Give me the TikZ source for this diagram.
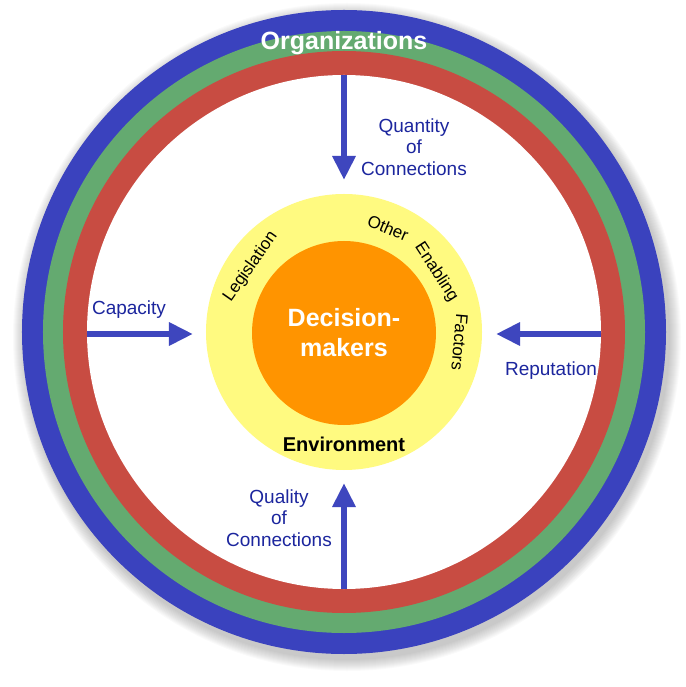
\documentclass[tikz,border=0pt]{standalone}
\usepackage{fontspec}
\setmainfont{Liberation Sans}
\usetikzlibrary{arrows.meta}
\definecolor{ringblue}{RGB}{58,66,190}
\definecolor{ringgreen}{RGB}{100,170,112}
\definecolor{ringred}{RGB}{200,76,66}
\definecolor{envyellow}{RGB}{255,250,128}
\definecolor{coreorange}{RGB}{255,148,0}
\definecolor{labelblue}{RGB}{28,38,158}
\definecolor{arrowblue}{RGB}{62,70,190}
\newcommand{\labelfont}{\fontsize{19}{21.5}\selectfont}

\begin{document}
\begin{tikzpicture}[x=1pt,y=1pt,
    bigarrow/.style={-{Triangle[length=24pt,width=22pt]}, line width=6pt, arrowblue},
    driver/.style={text=labelblue, align=center, font=\labelfont},
    factor/.style={font=\fontsize{17}{19}\selectfont, inner sep=0pt}]
    \useasboundingbox (-344,-355) rectangle (341,332);

    % shadow and rings
    \foreach \k in {1,...,12}
      \fill[black, opacity=0.018] (3,-5) circle (322+\k);
    \fill[ringblue] (0,0) circle (322);
    \fill[ringgreen] (0,0) circle (301);
    \fill[ringred] (0,0) circle (281);
    \fill[white] (0,0) circle (257);
    \fill[envyellow] (0,0) circle (138);
    \fill[coreorange] (0,-1) circle (92);

    \node (org) [anchor=base, text=white, font=\fontsize{25}{28}\selectfont\bfseries] at (0,282) {Organizations};
    \node (core) [align=center, text=white, font=\fontsize{25}{30}\selectfont\bfseries] at (0,-1) {Decision-\\makers};
    \node (env) [font=\fontsize{20}{22}\selectfont\bfseries] at (0,-112) {Environment};
    \foreach \word/\ang/\rad in {Legislation/145/114, Other/67/113, Enabling/33/110, Factors/-5/116}
      \node (\word) [factor, rotate=\ang-90] at (\ang:\rad) {\word};

    \node (quantity) [driver] at (70,185) {Quantity\\of\\Connections};
    \node (quality) [driver] at (-65,-186) {Quality\\of\\Connections};
    \node (capacity) [driver] at (-215,22) {Capacity};
    \node (reputation) [driver] at (207,-39) {Reputation};

    \coordinate (qtyOut) at (0,257);   \coordinate (qtyIn) at (0,152);
    \coordinate (qlyOut) at (0,-257);  \coordinate (qlyIn) at (0,-151);
    \coordinate (capOut) at (-257,-2); \coordinate (capIn) at (-151,-2);
    \coordinate (repOut) at (257,-2);  \coordinate (repIn) at (152,-2);

    \path
    (qtyOut) edge [bigarrow] (qtyIn)
    (qlyOut) edge [bigarrow] (qlyIn)
    (capOut) edge [bigarrow] (capIn)
    (repOut) edge [bigarrow] (repIn);
\end{tikzpicture}
\end{document}
